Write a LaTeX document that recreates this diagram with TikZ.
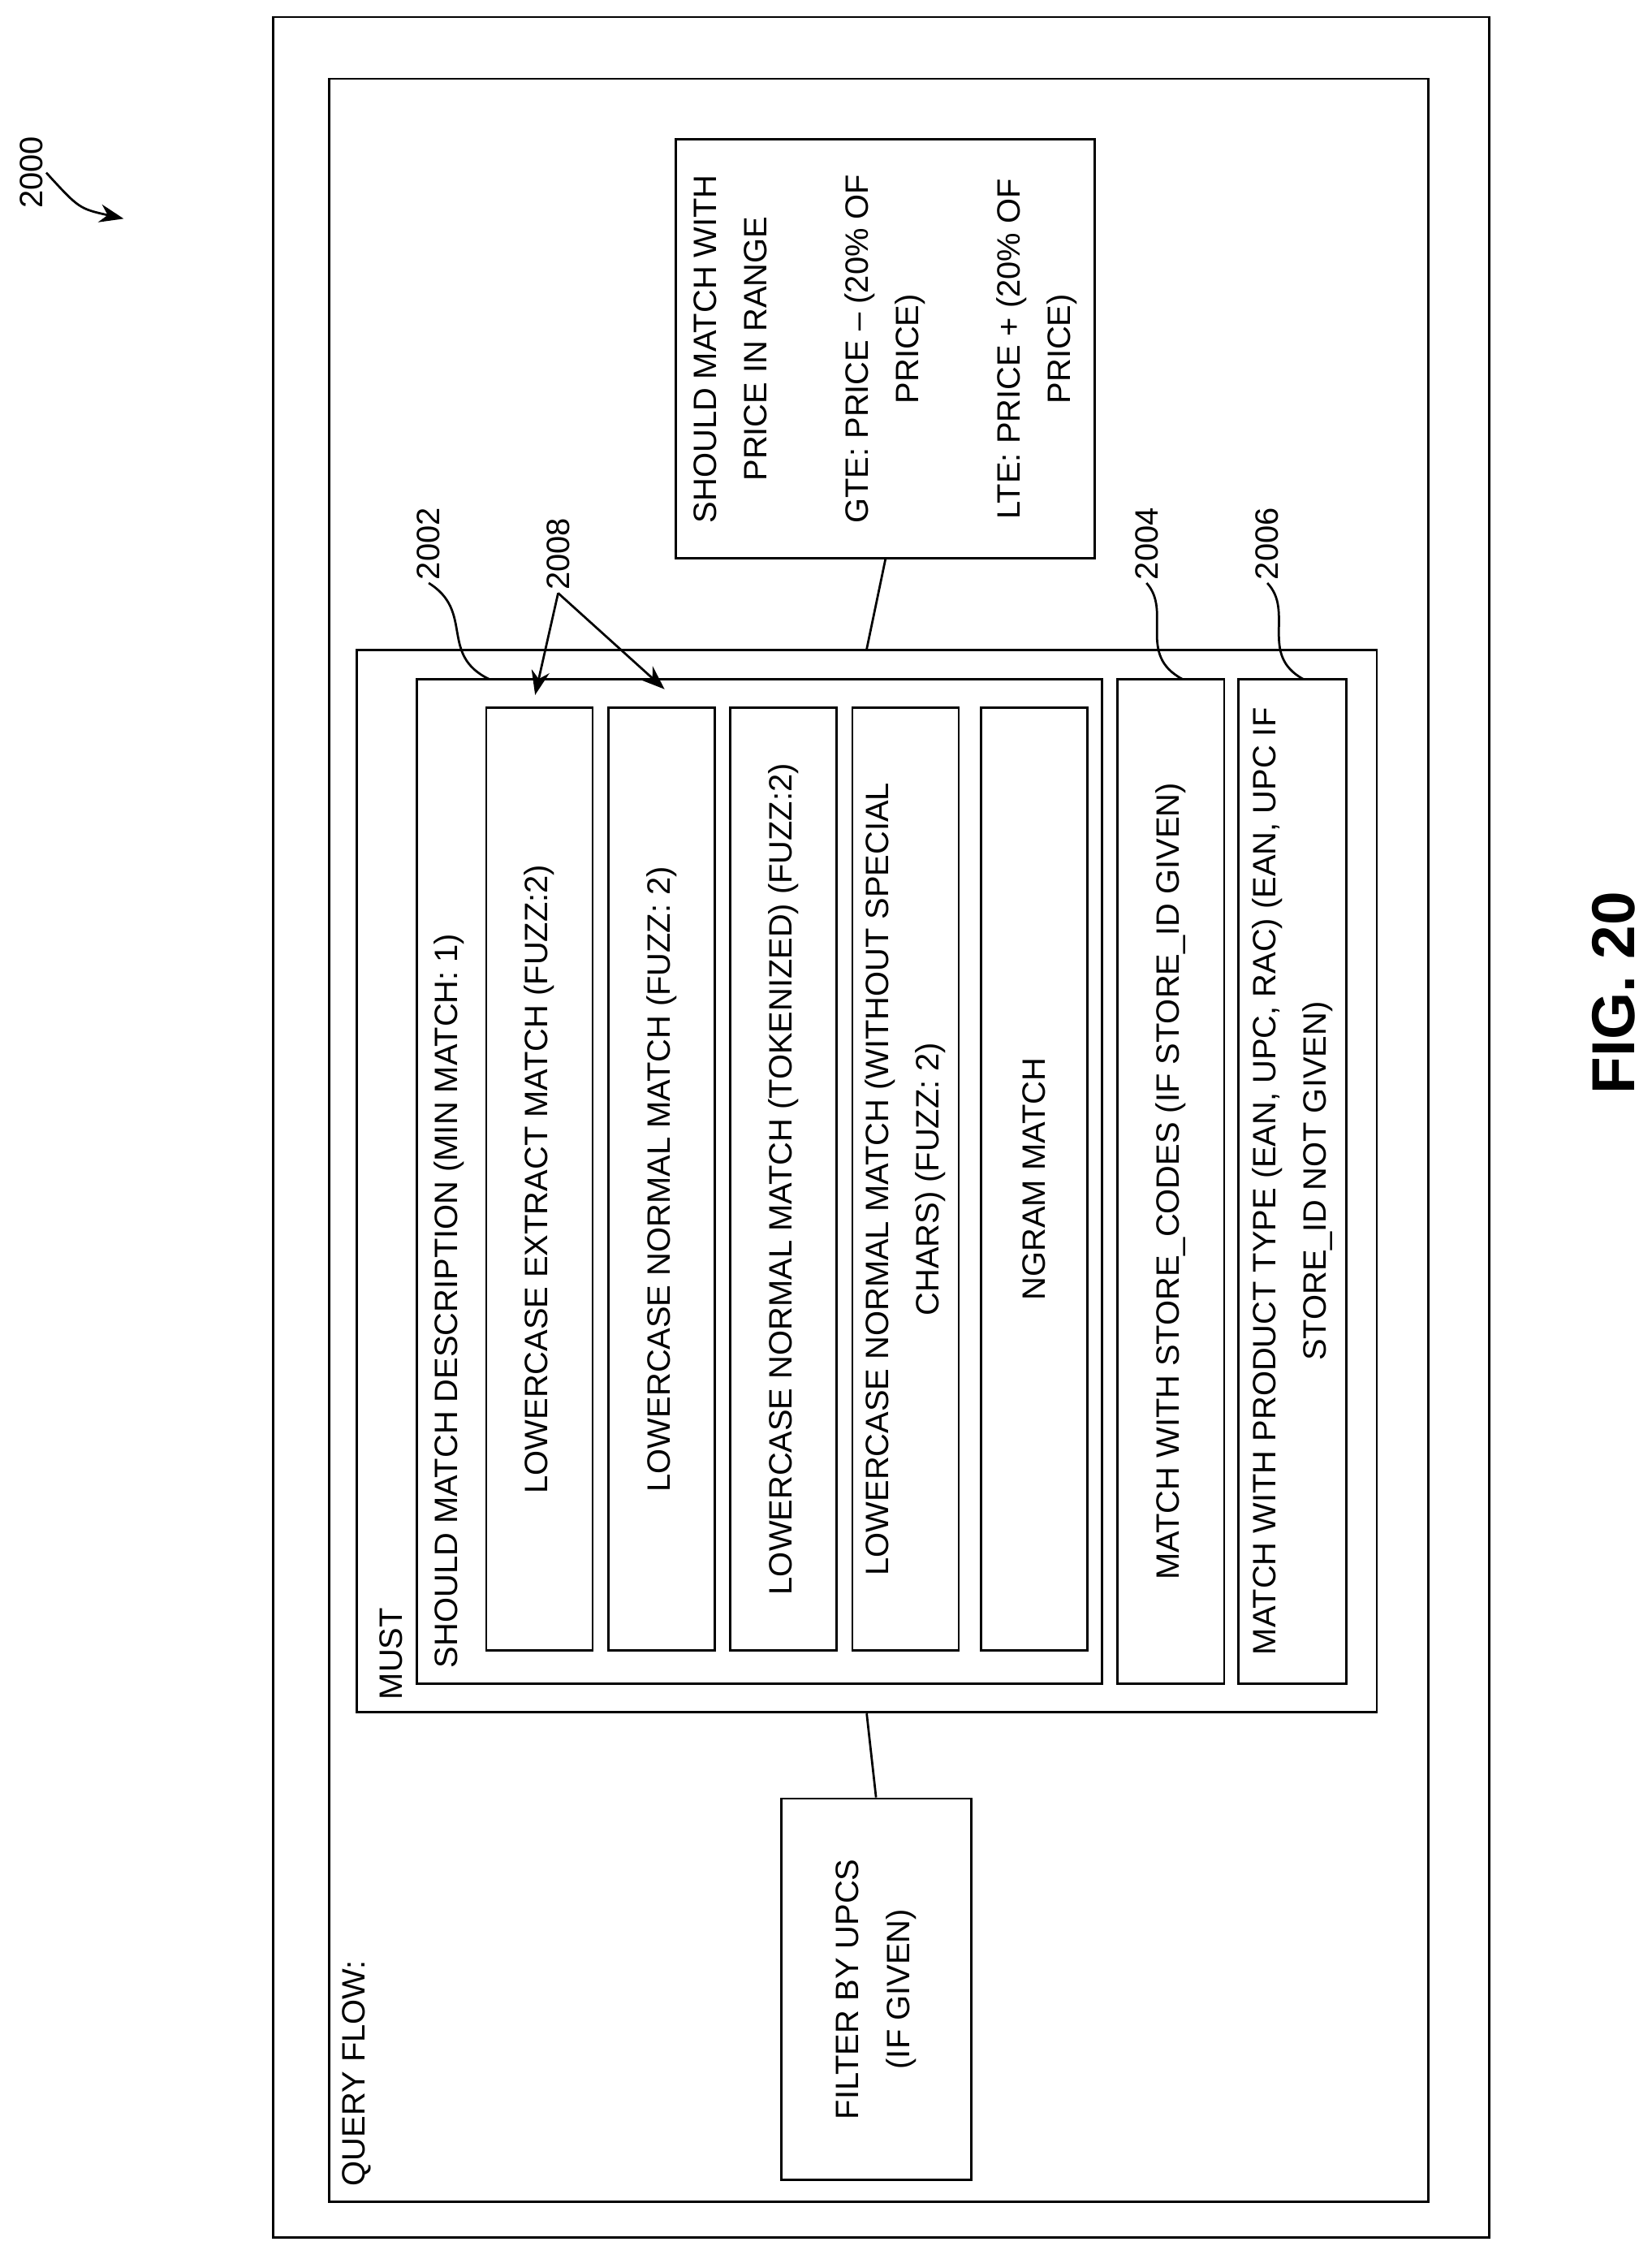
\documentclass[tikz,border=0pt]{standalone}
\usepackage{fontspec}
\setmainfont{Liberation Sans}
\usetikzlibrary{arrows.meta, positioning}
\begin{document}
\begin{tikzpicture}[x=0.025cm, y=-0.025cm, line width=1.1pt,
  every node/.style={font=\fontsize{16}{25}\selectfont},
  box/.style={draw, rotate=90, align=center, inner sep=0pt},
  txt/.style={rotate=90, inner sep=0pt, anchor=west},
  lbl/.style={rotate=90, inner sep=1pt}]

\useasboundingbox (0,0) rectangle (1148,1570);

% ------------------------
% Frames
% ------------------------
\node[box, minimum width=38.575cm, minimum height=21.125cm] (outer) at (612.5,783.5) {};
\node[box, minimum width=36.875cm, minimum height=19.1cm] (inner) at (611,792.5) {};
\node[txt] (qflow) at (248,1520) {QUERY FLOW:};

% Price range
\node[box, minimum width=7.275cm, minimum height=7.275cm] (price) at (615.5,242.5)
  {SHOULD MATCH WITH\\PRICE IN RANGE\\[25pt]GTE: PRICE -- (20\% OF\\PRICE)\\[25pt]LTE: PRICE + (20\% OF\\PRICE)};

% Must block
\node[box, minimum width=18.45cm, minimum height=17.725cm] (must) at (602.5,821) {};
\node[txt] (mustlbl) at (272,1182) {MUST};

\node[box, minimum width=17.45cm, minimum height=11.9cm] (should) at (528,821) {};
\node[txt] (shouldlbl) at (312,1160) {SHOULD MATCH DESCRIPTION (MIN MATCH: 1)};

% Sub-matches
\node[box, minimum width=16.375cm, minimum height=1.85cm] (extract) at (375,819.5) {LOWERCASE EXTRACT MATCH (FUZZ:2)};
\node[box, minimum width=16.375cm, minimum height=1.85cm] (normal) at (460,819.5) {LOWERCASE NORMAL MATCH (FUZZ: 2)};
\node[box, minimum width=16.375cm, minimum height=1.85cm] (token) at (544.5,819.5) {LOWERCASE NORMAL MATCH (TOKENIZED) (FUZZ:2)};
\node[box, minimum width=16.375cm, minimum height=1.85cm] (special) at (629.5,819.5) {LOWERCASE NORMAL MATCH (WITHOUT SPECIAL\\CHARS) (FUZZ: 2)};
\node[box, minimum width=16.375cm, minimum height=1.85cm] (ngram) at (719,819.5) {NGRAM MATCH};

\node[box, minimum width=17.45cm, minimum height=1.85cm] (store) at (814,821) {MATCH WITH STORE\_CODES (IF STORE\_ID GIVEN)};
\node[box, minimum width=17.45cm, minimum height=1.875cm] (ptype) at (898.5,821) {MATCH WITH PRODUCT TYPE (EAN, UPC, RAC) (EAN, UPC IF\\STORE\_ID NOT GIVEN)};

% Filter
\node[box, minimum width=6.625cm, minimum height=3.3cm] (filter) at (609,1382.5) {FILTER BY UPCS\\(IF GIVEN)};

% Connectors
\draw (price.west) -- (must.east);
\draw (must.west) -- (filter.east);

% ------------------------
% Reference labels
% ------------------------
\node[lbl] (n2000) at (22,120) {2000};
\node[lbl] (n2002) at (298,378) {2002};
\node[lbl] (n2008) at (388,385) {2008};
\node[lbl] (n2004) at (797,378) {2004};
\node[lbl] (n2006) at (881,378) {2006};
\node[font=\bfseries\fontsize{30}{36}\selectfont, rotate=90] (fig) at (1122,690) {FIG. 20};

\coordinate (c2002) at (340,472);
\coordinate (c2004) at (822,472);
\coordinate (c2006) at (906,472);
\coordinate (a1) at (372,483);
\coordinate (a2) at (462,479);
\coordinate (a0) at (86,152);

\draw (n2002.west) .. controls (330,425) and (305,455) .. (c2002);
\draw (n2004.west) .. controls (815,425) and (790,455) .. (c2004);
\draw (n2006.west) .. controls (900,425) and (875,455) .. (c2006);
\draw[-{Stealth[length=12pt]}] (n2008.west) -- (a1);
\draw[-{Stealth[length=12pt]}] (n2008.west) -- (a2);
\draw[-{Stealth[length=12pt]}] (n2000.south) .. controls (55,145) .. (a0);

\end{tikzpicture}
\end{document}
